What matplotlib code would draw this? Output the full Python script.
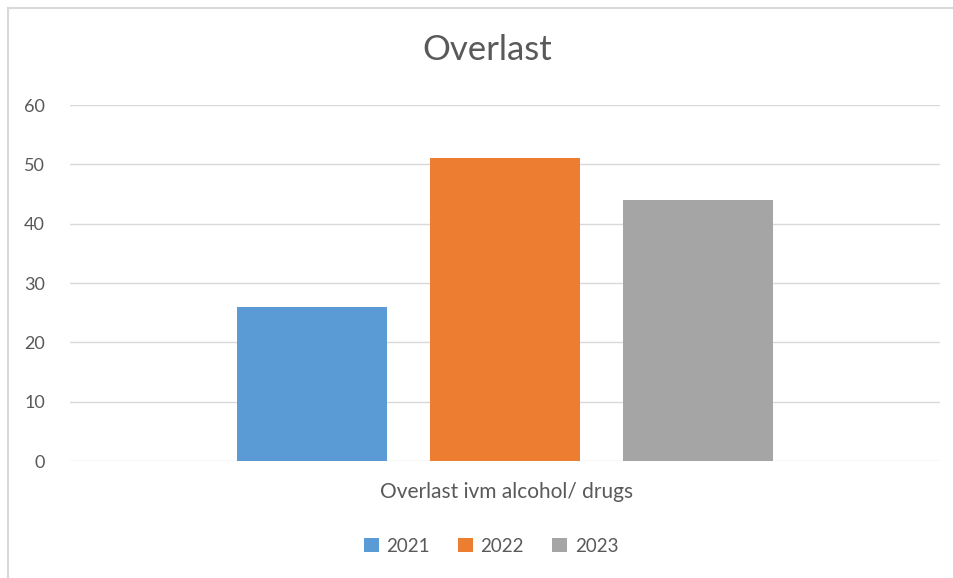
import matplotlib
matplotlib.use("Agg")
import matplotlib.pyplot as plt
from matplotlib.lines import Line2D
from matplotlib.patches import Patch

categories = ["Overlast ivm alcohol/ drugs"]
series = ["2021", "2022", "2023"]
values = [26, 51, 44]
colors = ["#5b9bd5", "#ed7d31", "#a5a5a5"]
yticks = [0, 10, 20, 30, 40, 50, 60]

plt.rcParams['font.family'] = ['Lato', 'DejaVu Sans']
W, H = 954, 578
fig = plt.figure(figsize=(W/100, H/100), dpi=100)
ax = fig.add_axes([70/W, 1-461/H, 870/W, 356/H])

offsets = [-0.222, 0.0, 0.2215]
bw = 150/870
for off, v, c, s in zip(offsets, values, colors, series):
    ax.bar(off, v, width=bw, color=c, label=s, zorder=3)

ax.set_xlim(-0.5, 0.5)
ax.set_ylim(0, 60)
ax.set_yticks(yticks)
ax.set_xticks([])
for y in yticks:
    ax.axhline(y, color="#d9d9d9", lw=1, zorder=1)
for sp in ax.spines.values():
    sp.set_visible(False)
ax.tick_params(axis='y', length=0, pad=18, labelsize=13, labelcolor="#595959")

fig.text(487/W, 1-50/H, "Overlast", ha='center', va='center', fontsize=25, color="#595959")
fig.text(507/W, 1-492/H, categories[0], ha='center', va='center', fontsize=15, color="#595959")

handles = [Patch(facecolor=c, edgecolor='none') for c in colors]
fig.legend(handles, series, loc='center', bbox_to_anchor=(491/W, 1-546/H), ncol=3,
           frameon=False, fontsize=13.5, labelcolor="#595959", handlelength=0.8,
           handleheight=0.8, handletextpad=0.4, columnspacing=1.5)

# figure border (left and top)
fig.add_artist(Line2D([8/W, 8/W], [0, 1-8/H], transform=fig.transFigure, color="#d9d9d9", lw=1.5))
fig.add_artist(Line2D([8/W, 1], [1-8/H, 1-8/H], transform=fig.transFigure, color="#d9d9d9", lw=1.5))

fig.savefig("out.png", dpi=100)
